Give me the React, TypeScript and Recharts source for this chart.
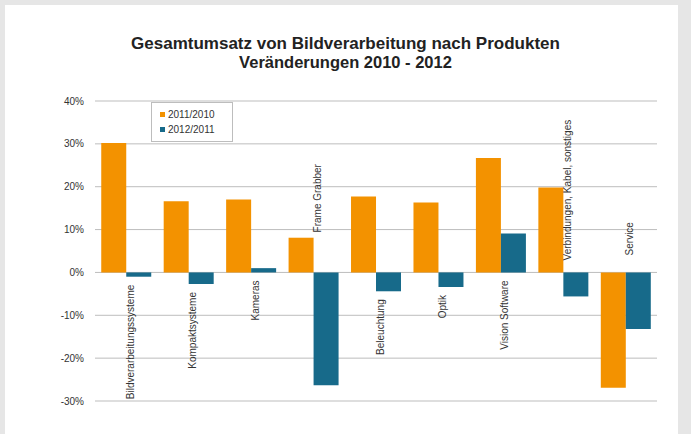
import { BarChart, Bar, XAxis, YAxis, CartesianGrid, LabelList } from 'recharts'

const categories = [
  'Bildverarbeitungssysteme',
  'Kompaktsysteme',
  'Kameras',
  'Frame Grabber',
  'Beleuchtung',
  'Optik',
  'Vision Software',
  'Verbindungen, Kabel, sonstiges',
  'Service',
]
const change2011 = [30.2, 16.6, 17.0, 8.1, 17.7, 16.3, 26.7, 19.8, -26.9]
const change2012 = [-1.0, -2.7, 1.0, -26.3, -4.4, -3.4, 9.1, -5.6, -13.2]
const yTicks = [-30, -20, -10, 0, 10, 20, 30, 40]
const seriesNames = ['2011/2010', '2012/2011']

const data = categories.map((name, i) => ({ name, a: change2011[i], b: change2012[i] }))

const ORANGE = '#f39200'
const BLUE = '#176a8a'
const FONT = '"Liberation Sans", Arial, sans-serif'

// labels that were dragged higher in the original
const raised: Record<string, number> = { 'Frame Grabber': 40, Service: 17 }

function CategoryLabel(props: any) {
  const { x, y, width, height, index } = props
  const name = categories[index]
  const v = change2012[index]
  const top = Math.min(y, y + height)
  const bottom = Math.max(y, y + height)
  const zeroY = v >= 0 ? bottom : top
  const lx = x + 4
  if (v < -5) {
    const by = zeroY - (raised[name] ?? 12)
    return (
      <text x={lx} y={by} transform={`rotate(-90 ${lx} ${by})`} textAnchor="start" dominantBaseline="central" fontSize={10} fill="#333" fontFamily={FONT}>
        {name}
      </text>
    )
  }
  const ty = Math.max(zeroY, bottom) + 8
  return (
    <text x={lx} y={ty} transform={`rotate(-90 ${lx} ${ty})`} textAnchor="end" dominantBaseline="central" fontSize={10} fill="#333" fontFamily={FONT}>
      {name}
    </text>
  )
}

function LegendBox() {
  const colors = [ORANGE, BLUE]
  return (
    <div style={{ position: 'absolute', left: 151, top: 102, border: '1px solid #bdbdbd', background: '#fff', width: 82, padding: '4px 0 4px 8px', fontFamily: FONT, fontSize: 10, color: '#333', boxSizing: 'border-box' }}>
      {seriesNames.map((n, i) => (
        <div key={n} style={{ display: 'flex', alignItems: 'center', height: 15 }}>
          <span style={{ width: 5, height: 5, background: colors[i], marginRight: 3, display: 'inline-block' }} />
          {n}
        </div>
      ))}
    </div>
  )
}

export default function App() {
  return (
    <div style={{ position: 'absolute', left: 0, top: 0, width: 691, height: 434, background: '#e6e6e6', overflow: 'hidden' }}>
      <div style={{ position: 'absolute', left: 5, top: 5, width: 673, height: 440, background: '#fff' }} />
      <div style={{ position: 'absolute', left: 0, top: 35, width: 691, textAlign: 'center', fontFamily: FONT, fontWeight: 'bold', color: '#222', lineHeight: '18px' }}>
        <div style={{ fontSize: 17 }}>Gesamtumsatz von Bildverarbeitung nach Produkten</div>
        <div style={{ fontSize: 16.5 }}>Veränderungen 2010 - 2012</div>
      </div>
      <div style={{ position: 'absolute', left: 0, top: 0 }}>
        <BarChart width={691} height={434} data={data} margin={{ top: 101, right: 34, bottom: 33, left: 0 }} barCategoryGap="10%" barGap={0}>
          <CartesianGrid vertical={false} stroke="#bdbdbd" />
          <XAxis dataKey="name" hide />
          <YAxis
            width={95}
            domain={[-30, 40]}
            ticks={yTicks}
            tickFormatter={(v: number) => `${v}%`}
            axisLine={false}
            tickLine={false}
            tickSize={0}
            tickMargin={11}
            tick={{ fontSize: 10, fill: '#333', fontFamily: FONT }}
            interval={0}
          />
          <Bar dataKey="a" name={seriesNames[0]} fill={ORANGE} isAnimationActive={false} />
          <Bar dataKey="b" name={seriesNames[1]} fill={BLUE} isAnimationActive={false}>
            <LabelList dataKey="name" content={<CategoryLabel />} />
          </Bar>
        </BarChart>
      </div>
      <LegendBox />
    </div>
  )
}
